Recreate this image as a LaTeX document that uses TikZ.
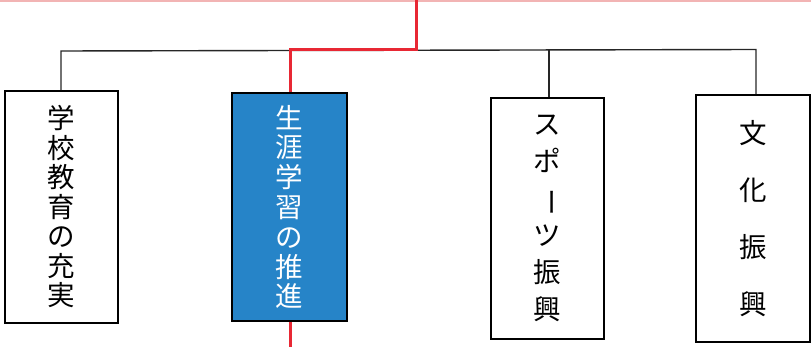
\documentclass[tikz,border=0pt]{standalone}
\usepackage{fontspec}
\usepackage{graphicx}
\newfontfamily\cjk{Noto Sans CJK JP}
\definecolor{boxblue}{RGB}{38,132,200}
\definecolor{linered}{RGB}{232,40,52}
\definecolor{toppink}{RGB}{242,180,180}
\tikzset{
  orgbox/.style={draw=black, line width=1.8pt, rectangle, inner sep=0pt, align=center},
  blackline/.style={draw=black!85, line width=1.4pt},
  redline/.style={draw=linered, line width=3pt},
}
\begin{document}
\begin{tikzpicture}[x=1pt,y=-1pt]
\useasboundingbox (0,0) rectangle (811,347);
\fill[toppink] (0,0) rectangle (811,2);
% boxes
\node[orgbox, font={\cjk\fontsize{27.5}{29.5}\selectfont}, minimum width=113pt, minimum height=232pt] (b1) at (61.5,207)
  {学\\校\\教\\育\\の\\充\\実};
\node[orgbox, font={\cjk\fontsize{27.5}{29.8}\selectfont}, fill=boxblue, text=white, minimum width=115pt, minimum height=228pt] (b2) at (289.5,207)
  {生\\涯\\学\\習\\の\\推\\進};
\node[orgbox, font={\cjk\fontsize{27.5}{37}\selectfont}, minimum width=113pt, minimum height=241pt] (b3) at (547.5,218.5)
  {ス\\ポ\\\rotatebox[origin=c]{-90}{ー}\\ツ\\振\\興};
\node[orgbox, font={\cjk\fontsize{27.5}{57}\selectfont}, minimum width=114pt, minimum height=247pt] (b4) at (753,218.5)
  {文\\化\\振\\興};
% connectors
\coordinate (jl) at (61,51);
\coordinate (jr) at (756,49.5);
\coordinate (j3) at (549,50);
\coordinate (rtop) at (416,0);
\coordinate (rj) at (416,50);
\coordinate (rl) at (290,50);
\coordinate (rbot) at (290,347);
\draw[blackline] (b1.north -| jl) -- (jl) -- (jr) -- (b4.north -| jr);
\draw[blackline] (j3) -- (b3.north -| j3);
\draw[redline] (rtop) -- (rj) -- (rl) -- (b2.north -| rl);
\draw[redline] (b2.south -| rbot) -- (rbot);
\end{tikzpicture}
\end{document}
